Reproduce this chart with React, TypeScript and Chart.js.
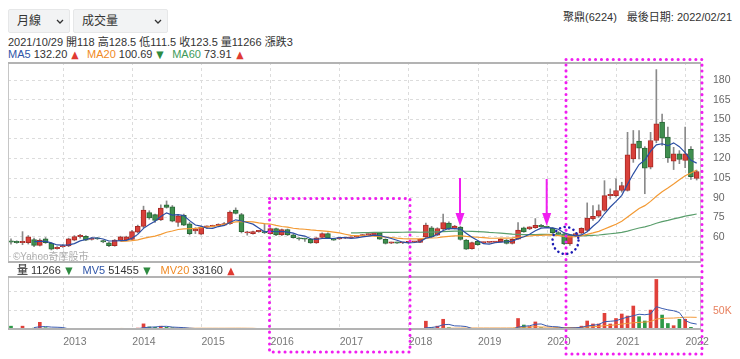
import React, { useEffect, useRef } from "react";
import { Chart, registerables } from "chart.js";
Chart.register(...registerables);

const FONT = '"Liberation Sans", Arial, "Noto Sans CJK TC", sans-serif';

// ---- data (monthly candles, first candle = 2012/03, last = 2022/02) ----
const yearLabels = ["2013", "2014", "2015", "2016", "2017", "2018", "2019", "2020", "2021", "2022"];
const priceTicks = [45, 60, 75, 90, 105, 120, 135, 150, 165, 180];
const volumeTicks = [50000, 100000];

const opens = [
  56.5, 56.0, 55.6, 55.5, 58.0, 53.5, 58.5, 55.0, 51.0, 52.5,
  53.0, 57.5, 60.2, 60.5, 58.0, 58.8, 57.0, 55.5, 53.2, 57.2,
  57.5, 58.0, 63.5, 68.0, 78.5, 77.0, 73.0, 84.5, 83.0, 71.0,
  76.5, 70.0, 64.5, 62.0, 67.5, 68.0, 68.5, 69.0, 70.0, 80.4,
  77.0, 63.0, 62.5, 64.0, 63.6, 62.5, 66.4, 61.5, 65.6, 61.5,
  58.8, 58.5, 58.2, 55.4, 59.5, 62.5, 58.7, 58.5, 59.0, 59.2,
  59.8, 60.8, 61.6, 61.3, 63.0, 58.2, 55.2, 55.5, 55.3, 55.6,
  56.0, 55.7, 60.0, 67.0, 61.3, 66.0, 70.5, 66.4, 67.5, 57.5,
  51.0, 56.5, 55.5, 55.7, 55.8, 56.2, 57.5, 55.0, 58.2, 66.9,
  66.0, 67.0, 68.9, 67.5, 66.6, 62.8, 62.3, 54.6, 61.5, 62.8,
  65.0, 73.8, 75.8, 80.2, 91.6, 91.6, 95.5, 95.5, 119.7, 133.2,
  127.9, 113.3, 133.7, 147.8, 136.3, 118.0, 123.5, 118.4, 127.0, 104.8,
];
const highs = [
  58.5, 57.0, 64.0, 61.0, 59.0, 58.5, 59.5, 55.5, 52.5, 54.0,
  59.0, 61.0, 62.0, 61.0, 59.5, 59.5, 57.5, 56.0, 58.0, 60.5,
  60.5, 65.0, 69.0, 83.5, 80.0, 77.5, 84.5, 87.5, 84.0, 77.0,
  77.5, 71.0, 67.0, 68.0, 68.5, 69.0, 70.0, 71.0, 80.0, 82.2,
  78.0, 64.3, 64.5, 65.0, 70.0, 67.0, 66.8, 66.0, 66.0, 62.0,
  59.5, 59.0, 58.7, 59.5, 63.0, 63.0, 59.0, 59.2, 59.6, 60.0,
  61.0, 61.8, 62.5, 63.5, 63.3, 58.5, 56.0, 56.0, 55.8, 56.0,
  56.5, 58.5, 70.5, 68.0, 67.0, 77.5, 71.5, 68.8, 68.0, 58.0,
  56.0, 57.0, 56.2, 56.2, 56.5, 58.7, 58.0, 58.7, 71.0, 67.5,
  67.8, 74.0, 69.5, 68.0, 67.0, 64.0, 63.0, 62.0, 63.0, 67.0,
  86.0, 84.0, 84.5, 103.0, 96.7, 104.4, 101.8, 140.0, 141.4, 141.4,
  129.0, 140.0, 188.0, 154.0, 144.0, 128.5, 126.0, 144.0, 129.0, 111.0,
];
const lows = [
  54.5, 55.0, 54.0, 54.5, 52.5, 53.0, 55.0, 50.0, 50.5, 52.0,
  52.5, 57.0, 59.0, 57.0, 57.5, 58.0, 55.5, 52.5, 52.8, 56.8,
  57.0, 57.5, 63.0, 67.0, 73.5, 71.0, 72.5, 82.0, 71.5, 68.0,
  68.5, 61.5, 62.5, 61.5, 66.5, 67.5, 68.0, 68.5, 69.5, 77.5,
  63.0, 61.3, 62.0, 63.5, 62.5, 62.0, 61.0, 61.0, 61.0, 59.0,
  57.5, 56.5, 55.0, 55.0, 59.0, 59.0, 57.3, 58.0, 58.6, 59.0,
  59.5, 60.5, 61.3, 61.0, 58.0, 54.5, 54.8, 55.0, 54.8, 55.2,
  55.5, 55.5, 59.5, 59.5, 61.0, 65.5, 65.5, 66.0, 57.5, 50.3,
  50.5, 53.5, 55.0, 55.2, 55.5, 56.0, 54.5, 54.5, 58.0, 63.5,
  65.5, 66.5, 67.5, 67.0, 62.5, 61.0, 54.0, 53.5, 60.5, 62.3,
  64.5, 72.5, 75.0, 79.5, 89.0, 90.5, 94.2, 95.0, 117.0, 119.7,
  93.0, 112.0, 132.0, 130.0, 117.0, 111.5, 116.0, 113.0, 104.0, 103.5,
];
const closes = [
  56.0, 55.6, 56.2, 60.0, 53.5, 57.5, 55.5, 50.5, 52.0, 53.0,
  58.5, 60.2, 60.8, 57.5, 58.8, 58.4, 56.2, 53.2, 57.5, 60.0,
  60.0, 64.0, 68.0, 80.5, 74.5, 72.5, 82.0, 82.5, 72.0, 76.0,
  69.0, 62.5, 66.0, 67.5, 68.0, 68.5, 69.5, 70.2, 79.0, 78.0,
  64.0, 63.6, 64.0, 64.5, 63.2, 66.4, 61.5, 65.6, 61.5, 59.3,
  58.4, 58.2, 55.4, 59.2, 62.5, 59.2, 57.5, 58.9, 59.3, 59.6,
  60.6, 61.3, 62.0, 63.0, 58.2, 55.0, 55.5, 55.2, 55.6, 55.9,
  56.3, 58.2, 69.0, 60.0, 66.4, 71.0, 66.0, 68.2, 58.0, 50.6,
  55.6, 54.0, 55.8, 56.0, 56.2, 58.2, 55.0, 58.2, 65.1, 63.8,
  67.7, 68.9, 67.7, 67.2, 63.2, 62.3, 54.6, 61.5, 62.5, 66.5,
  74.3, 75.8, 80.2, 91.6, 92.4, 95.5, 99.3, 122.8, 131.2, 127.9,
  112.6, 133.7, 146.5, 135.5, 120.5, 123.5, 119.2, 123.5, 106.0, 110.0,
];
const volumes = [
  10000, 3000, 10000, 4000, 5000, 20000, 6000, 3000, 2000, 1500,
  2000, 2500, 1500, 2000, 1500, 1000, 1500, 2000, 2500, 2000,
  3000, 4000, 5000, 16000, 8000, 7000, 10000, 7000, 6000, 4500,
  3500, 3000, 2000, 2000, 1500, 1500, 1500, 2000, 4000, 3000,
  3000, 1500, 1500, 1000, 2000, 1500, 2000, 1500, 1500, 1000,
  1000, 1000, 1500, 1500, 2000, 1500, 1000, 1000, 1000, 1000,
  1500, 1000, 1500, 1500, 2000, 2000, 1000, 1000, 1000, 1000,
  1500, 2000, 23000, 6000, 10000, 28000, 6000, 4000, 4000, 3000,
  2500, 2500, 1500, 1500, 1500, 2000, 1500, 2000, 30000, 13000,
  9000, 21000, 6000, 4000, 4000, 6000, 6000, 6000, 7000, 10000,
  23500, 15700, 15700, 43500, 15700, 30000, 41800, 36500, 62600, 34800,
  23500, 52000, 132000, 39000, 17000, 11266, 28000, 28000, 7000, 3000,
];

// ---- layout helpers ----
const FIRST_YEAR = 2012;
const FIRST_MONTH = 3;
const janIndex = (y: number) => (y - FIRST_YEAR) * 12 + (1 - FIRST_MONTH);
const yearGridPos = yearLabels.map((y) => janIndex(Number(y)) - 0.95);
const X_MIN = -0.52;
const X_MAX = 119.75;

const UP = "#d8403a";
const UP_BORDER = "#a92a25";
const DOWN = "#3f8f4f";
const DOWN_BORDER = "#2a6837";
const isUp = (i: number) => closes[i] >= opens[i];

function movingAverage(values: number[], n: number) {
  const out: { x: number; y: number }[] = [];
  for (let i = n - 1; i < values.length; i++) {
    let s = 0;
    for (let k = i - n + 1; k <= i; k++) s += values[k];
    out.push({ x: i, y: s / n });
  }
  return out;
}

const framePlugin = {
  id: "frame",
  afterDraw(chart: any) {
    const { ctx, chartArea: a } = chart;
    ctx.save();
    ctx.strokeStyle = "#c6c6c6";
    ctx.lineWidth = 1;
    ctx.strokeRect(a.left + 0.5, a.top + 0.5, a.right - a.left - 1, a.bottom - a.top - 1);
    ctx.strokeStyle = "#b3b3b3";
    ctx.lineWidth = 2;
    ctx.beginPath();
    ctx.moveTo(a.left, a.top + 1);
    ctx.lineTo(a.right, a.top + 1);
    ctx.moveTo(a.left, a.bottom - 1);
    ctx.lineTo(a.right, a.bottom - 1);
    ctx.stroke();
    ctx.restore();
  },
};

function xScale(showLabels: boolean) {
  return {
    type: "linear",
    min: X_MIN,
    max: X_MAX,
    offset: false,
    afterBuildTicks: (s: any) => {
      s.ticks = yearGridPos.map((v) => ({ value: v }));
    },
    grid: { color: "#dcdcdc", drawTicks: false, offset: false },
    border: { display: false, dash: [3, 3] },
    ticks: {
      display: showLabels,
      autoSkip: false,
      maxRotation: 0,
      minRotation: 0,
      align: "start",
      padding: 6,
      color: "#777",
      font: { family: FONT, size: 10.5 },
      callback: (_v: any, i: number) => yearLabels[i],
    },
    afterFit: (s: any) => {
      s.height = showLabels ? 26 : 0;
      s.paddingLeft = 0;
      s.paddingRight = 0;
    },
  };
}

function Tri({ up }: { up: boolean }) {
  return (
    <span
      style={{
        color: up ? "#e03a32" : "#2e8b40",
        fontFamily: '"DejaVu Sans", sans-serif',
        fontSize: 10,
        marginLeft: 4,
        display: "inline-block",
        transform: "scaleX(0.95)",
      }}
    >
      {up ? "▲" : "▼"}
    </span>
  );
}

function Dropdown({ left, width, text }: { left: number; width: number; text: string }) {
  return (
    <div
      style={{
        position: "absolute",
        left,
        top: 9,
        width,
        height: 24,
        background: "#f2f3f4",
        border: "1px solid #e6e7e8",
        boxSizing: "border-box",
        borderRadius: 2,
      }}
    >
      <span style={{ position: "absolute", left: 8, top: 4, fontSize: 12, lineHeight: "15px", color: "#333" }}>{text}</span>
      <svg width={8} height={6} style={{ position: "absolute", right: 5, top: 9 }}>
        <polyline points="1,1 4,4 7,1" stroke="#333" strokeWidth={1.3} fill="none" />
      </svg>
    </div>
  );
}

export default function App() {
  const priceRef = useRef<HTMLCanvasElement>(null);
  const volRef = useRef<HTMLCanvasElement>(null);

  useEffect(() => {
    const idx = opens.map((_, i) => i);
    const priceChart = new Chart(priceRef.current as HTMLCanvasElement, {
      type: "bar",
      data: {
        datasets: [
          {
            type: "line",
            label: "MA5",
            data: movingAverage(closes, 5),
            borderColor: "#2b4ea3",
            borderWidth: 1.2,
            pointRadius: 0,
            tension: 0,
            order: 0,
          } as any,
          {
            type: "line",
            label: "MA20",
            data: movingAverage(closes, 20),
            borderColor: "#f39a34",
            borderWidth: 1.2,
            pointRadius: 0,
            tension: 0,
            order: 0,
          } as any,
          {
            type: "line",
            label: "MA60",
            data: movingAverage(closes, 60),
            borderColor: "#5a9e6c",
            borderWidth: 1.2,
            pointRadius: 0,
            tension: 0,
            order: 0,
          } as any,
          {
            type: "bar",
            label: "body",
            data: idx.map((i) => ({ x: i, y: [opens[i], closes[i]] })),
            backgroundColor: idx.map((i) => (isUp(i) ? UP : DOWN)),
            borderColor: idx.map((i) => (isUp(i) ? UP_BORDER : DOWN_BORDER)),
            borderWidth: 1,
            borderSkipped: false,
            barThickness: 5,
            minBarLength: 1.2,
            grouped: false,
            order: 1,
          } as any,
          {
            type: "bar",
            label: "wick",
            data: idx.map((i) => ({ x: i, y: [lows[i], highs[i]] })),
            backgroundColor: "#8a8a8a",
            barThickness: 1,
            grouped: false,
            order: 2,
          } as any,
        ],
      },
      options: {
        animation: false,
        responsive: false,
        maintainAspectRatio: false,
        layout: { padding: 0 },
        plugins: { legend: { display: false }, tooltip: { enabled: false } },
        scales: {
          x: xScale(false) as any,
          y: {
            type: "linear",
            position: "right",
            min: 40,
            max: 193.8,
            beginAtZero: false,
            afterBuildTicks: (s: any) => {
              s.ticks = priceTicks.map((v) => ({ value: v }));
            },
            grid: { color: "#dcdcdc", drawTicks: false },
            border: { display: false, dash: [3, 3] },
            ticks: {
              color: "#666",
              padding: 12,
              font: { family: FONT, size: 10.5 },
              callback: (v: any) => (v >= 60 ? String(v) : ""),
            },
            afterFit: (s: any) => {
              s.width = 39;
              s.paddingTop = 0;
              s.paddingBottom = 0;
            },
          } as any,
        },
      },
      plugins: [framePlugin],
    });

    const volChart = new Chart(volRef.current as HTMLCanvasElement, {
      type: "bar",
      data: {
        datasets: [
          {
            type: "line",
            label: "MV5",
            data: movingAverage(volumes, 5),
            borderColor: "#3a5bb0",
            borderWidth: 1,
            pointRadius: 0,
            tension: 0,
            order: 0,
          } as any,
          {
            type: "line",
            label: "MV20",
            data: movingAverage(volumes, 20),
            borderColor: "#f39a3c",
            borderWidth: 1,
            pointRadius: 0,
            tension: 0,
            order: 0,
          } as any,
          {
            type: "bar",
            label: "volume",
            data: idx.map((i) => ({ x: i, y: volumes[i] })),
            backgroundColor: idx.map((i) => (isUp(i) ? "#e0403a" : "#2f9a48")),
            barThickness: 3,
            grouped: false,
            order: 1,
          } as any,
        ],
      },
      options: {
        animation: false,
        responsive: false,
        maintainAspectRatio: false,
        layout: { padding: 0 },
        plugins: { legend: { display: false }, tooltip: { enabled: false } },
        scales: {
          x: xScale(true) as any,
          y: {
            type: "linear",
            position: "right",
            min: 0,
            max: 141000,
            afterBuildTicks: (s: any) => {
              s.ticks = volumeTicks.map((v) => ({ value: v }));
            },
            grid: { color: "#dcdcdc", drawTicks: false },
            border: { display: false, dash: [3, 3] },
            ticks: {
              color: "#e8805e",
              padding: 12,
              font: { family: FONT, size: 10.5 },
              callback: (v: any) => (v === 50000 ? "50K" : ""),
            },
            afterFit: (s: any) => {
              s.width = 39;
              s.paddingTop = 0;
              s.paddingBottom = 0;
            },
          } as any,
        },
      },
      plugins: [framePlugin],
    });

    return () => {
      priceChart.destroy();
      volChart.destroy();
    };
  }, []);

  const mag = "#f01ef0";
  const dot = { stroke: mag, strokeWidth: 3, strokeLinecap: "round" as const, strokeDasharray: "0.1 5.8", fill: "none" };

  return (
    <div
      style={{
        position: "fixed",
        left: 0,
        top: 0,
        width: 740,
        height: 359,
        background: "#fff",
        fontFamily: FONT,
        color: "#333",
        overflow: "hidden",
      }}
    >
      <Dropdown left={8} width={62} text="月線" />
      <Dropdown left={73} width={95} text="成交量" />

      <div style={{ position: "absolute", right: 8, top: 10, fontSize: 11, lineHeight: "14px", whiteSpace: "pre" }}>
        <span>聚鼎(6224)</span>
        <span style={{ marginLeft: 10 }}>最後日期: 2022/02/21</span>
      </div>

      <div style={{ position: "absolute", left: 8, top: 34.5, fontSize: 11, lineHeight: "14px", whiteSpace: "pre" }}>
        2021/10/29 開118 高128.5 低111.5 收123.5 量11266 漲跌3
      </div>
      <div style={{ position: "absolute", left: 8, top: 47, fontSize: 11, lineHeight: "14px", whiteSpace: "pre" }}>
        <span style={{ color: "#2f55a8" }}>MA5</span> 132.20<Tri up={true} />
        <span style={{ color: "#f08a24", marginLeft: 8 }}>MA20</span> 100.69<Tri up={false} />
        <span style={{ color: "#3d9a5a", marginLeft: 8 }}>MA60</span> 73.91<Tri up={true} />
      </div>

      <canvas ref={priceRef} width={732} height={201} style={{ position: "absolute", left: 8, top: 62, display: "block" }} />

      <div style={{ position: "absolute", left: 13, top: 251, fontSize: 10, lineHeight: "12px", color: "rgba(0,0,0,0.33)", whiteSpace: "pre" }}>
        ©Yahoo奇摩股市
      </div>

      <div style={{ position: "absolute", left: 17, top: 263, fontSize: 11, lineHeight: "14px", whiteSpace: "pre" }}>
        <span style={{ color: "#555", fontWeight: "bold" }}>量</span> 11266<Tri up={false} />
        <span style={{ color: "#2f55a8", marginLeft: 10 }}>MV5</span> 51455<Tri up={false} />
        <span style={{ color: "#f08a24", marginLeft: 10 }}>MV20</span> 33160<Tri up={true} />
      </div>

      <canvas ref={volRef} width={732} height={80} style={{ position: "absolute", left: 8, top: 276, display: "block" }} />

      <svg width={740} height={359} style={{ position: "absolute", left: 0, top: 0, pointerEvents: "none" }}>
        <rect x={269.5} y={198.5} width={140.5} height={153.5} {...dot} />
        <rect x={566} y={59.5} width={136} height={294.5} {...dot} />
        <line x1={460} y1={178} x2={460} y2={214} stroke={mag} strokeWidth={2} />
        <polygon points="455.5,213 464.5,213 460,226" fill={mag} />
        <line x1={546.7} y1={179} x2={546.7} y2={214} stroke={mag} strokeWidth={2} />
        <polygon points="542.2,213 551.2,213 546.7,226" fill={mag} />
        <ellipse cx={565.5} cy={240.5} rx={13} ry={13.5} stroke="#1c1cb4" strokeWidth={2.5} strokeLinecap="round" strokeDasharray="0.1 4.6" fill="none" />
      </svg>
    </div>
  );
}
